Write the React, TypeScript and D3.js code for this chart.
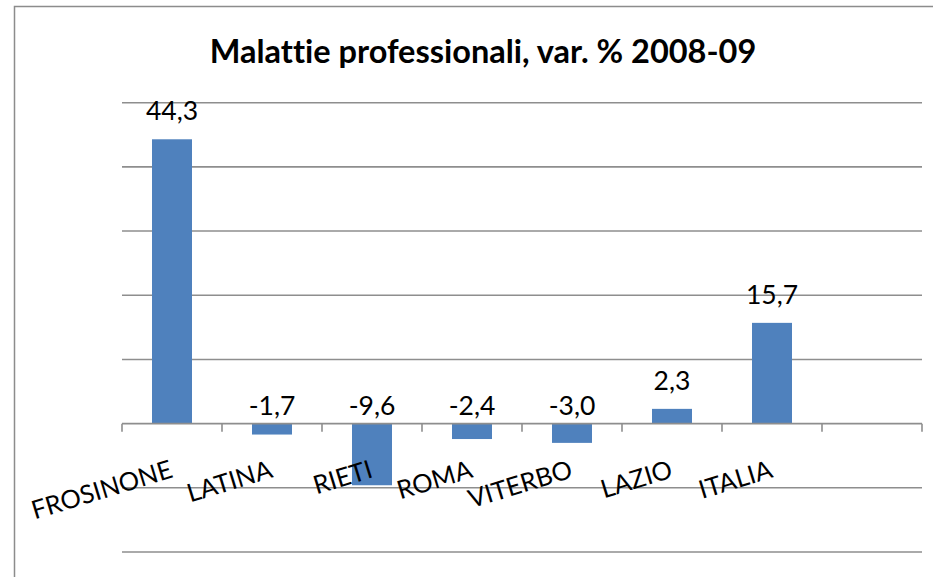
import React from "react";
import * as d3 from "d3";

const categories = ["FROSINONE", "LATINA", "RIETI", "ROMA", "VITERBO", "LAZIO", "ITALIA", ""];
const values = [44.3, -1.7, -9.6, -2.4, -3.0, 2.3, 15.7];
const gridTicks = [-20, -10, 0, 10, 20, 30, 40, 50];
const title = "Malattie professionali, var. % 2008-09";

const W = 933;
const H = 577;
const FONT = "Lato, 'Open Sans', sans-serif";
const noLig = { fontVariantLigatures: "none", fontFeatureSettings: "'liga' 0" } as React.CSSProperties;

export default function App() {
  const x = d3
    .scaleBand()
    .domain(categories.map((c, i) => String(i)))
    .range([122, 922])
    .paddingInner(0.6)
    .paddingOuter(0.3);
  const y = d3.scaleLinear().domain([-20, 50]).range([552, 102.7]);
  const step = x.step();
  const boundaries = d3.range(categories.length + 1).map((i) => 122 + i * step);
  const fmt = (v: number) => v.toFixed(1).replace(".", ",");

  return (
    <svg
      width={W}
      height={H}
      style={{ position: "absolute", left: 0, top: 0, background: "#fff" }}
    >
      <rect x={14.5} y={6.5} width={1000} height={1000} fill="#fff" stroke="#8c8c8c" strokeWidth={1.5} />
      <text x={483} y={63} textAnchor="middle" fontFamily={FONT} fontWeight="bold" fontSize={32.5} fill="#000" style={noLig}>
        {title}
      </text>
      {gridTicks
        .filter((t) => t !== 0)
        .map((t) => (
          <line key={t} x1={122} x2={922} y1={y(t)} y2={y(t)} stroke="#8e8e8e" strokeWidth={1.6} />
        ))}
      {values.map((v, i) => (
        <rect
          key={i}
          x={x(String(i))}
          y={Math.min(y(v), y(0))}
          width={x.bandwidth()}
          height={Math.abs(y(v) - y(0))}
          fill="#4f81bd"
        />
      ))}
      <line x1={122} x2={922} y1={y(0)} y2={y(0)} stroke="#8e8e8e" strokeWidth={1.8} />
      {boundaries.map((b, i) => (
        <line key={i} x1={b} x2={b} y1={y(0)} y2={y(0) + 8} stroke="#8e8e8e" strokeWidth={1.6} />
      ))}
      {values.map((v, i) => (
        <text
          key={i}
          x={(x(String(i)) as number) + x.bandwidth() / 2}
          y={v >= 0 ? y(v) - 19 : y(0) - 9}
          textAnchor="middle"
          fontFamily={FONT}
          fontSize={26.5}
          fill="#000"
        >
          {fmt(v)}
        </text>
      ))}
      {categories.map((c, i) => {
        const cx = (x(String(i)) as number) + x.bandwidth() / 2;
        return (
          <text
            key={i}
            transform={`translate(${cx + 2},477) rotate(-17)`}
            textAnchor="end"
            fontFamily={FONT}
            fontSize={25.5}
            fill="#000"
            style={noLig}
          >
            {c}
          </text>
        );
      })}
    </svg>
  );
}
